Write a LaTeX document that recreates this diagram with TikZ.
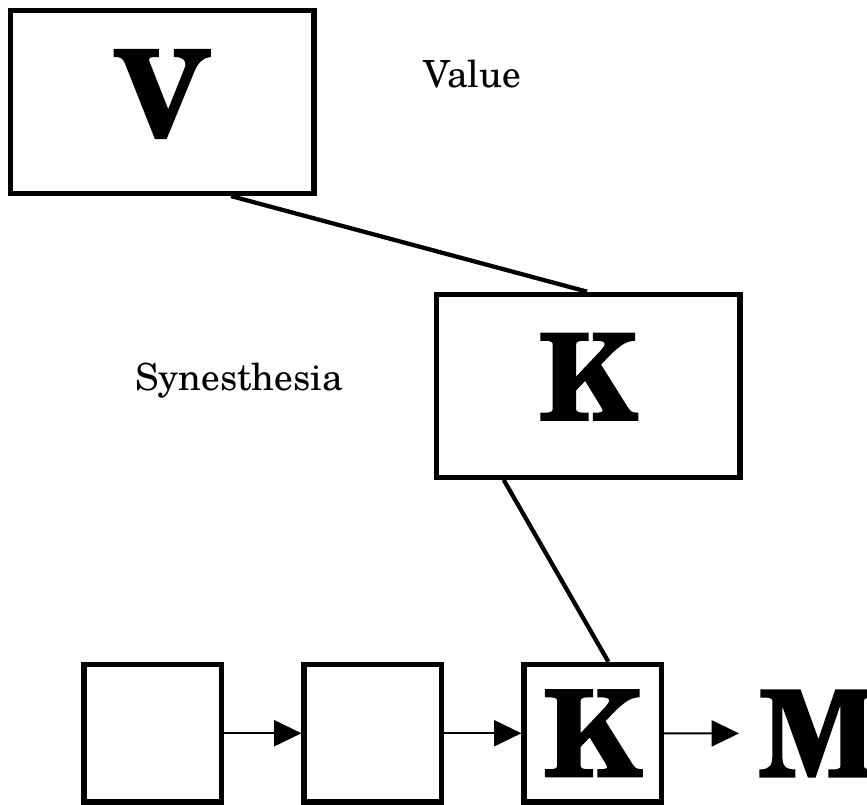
\documentclass[tikz,border=0pt]{standalone}
\usepackage{fontspec}
\setmainfont{TeX Gyre Schola}
\newfontfamily\heavyfont[FakeBold=1.5]{TeX Gyre Schola Bold}
\usetikzlibrary{arrows.meta,calc}
\begin{document}
\begin{tikzpicture}[x=0.75pt,y=-0.75pt,
  bigbox/.style={draw,line width=3.9pt,inner sep=0pt,minimum width=227.6pt,minimum height=137.25pt,font=\heavyfont\fontsize{90}{90}\selectfont,text depth=13.5pt},
  smallbox/.style={draw,line width=3.9pt,inner sep=0pt,minimum width=103.1pt,minimum height=103.1pt,font=\heavyfont\fontsize{90}{90}\selectfont},
  lbl/.style={font=\fontsize{28}{28}\selectfont,inner sep=0pt},
  conn/.style={line width=3.2pt},
  arr/.style={line width=1.6pt,-{Triangle[length=20.5pt,width=19.5pt]}}]
\useasboundingbox (0,0) rectangle (867,805);
\node[bigbox] (V) at (162.25,102) {V};
\node[bigbox] (K1) at (588.25,385.75) {K};
\node[lbl,anchor=base west] (val) at (423,88) {Value};
\node[lbl,anchor=base west] (syn) at (135,391) {Synesthesia};
\node[smallbox] (b1) at (152.75,733.25) {};
\node[smallbox] (b2) at (372.75,733.25) {};
\node[smallbox] (b3) at (592.75,733.25) {K};
\node[inner sep=0pt,anchor=west,font=\heavyfont\fontsize{90}{90}\selectfont] (M) at (759,733.5) {M};
\draw[conn] ($(V.south west)!0.723!(V.south east)$) coordinate (a1) -- ($(K1.north west)!0.496!(K1.north east)$) coordinate (a2);
\draw[conn] ($(K1.south west)!0.226!(K1.south east)$) coordinate (c1) -- ($(b3.north west)!0.61!(b3.north east)$) coordinate (c2);
\draw[arr] (b1) -- (b2);
\draw[arr] (b2) -- (b3);
\draw[arr,shorten >=15pt] (b3) -- (M);
\end{tikzpicture}
\end{document}
